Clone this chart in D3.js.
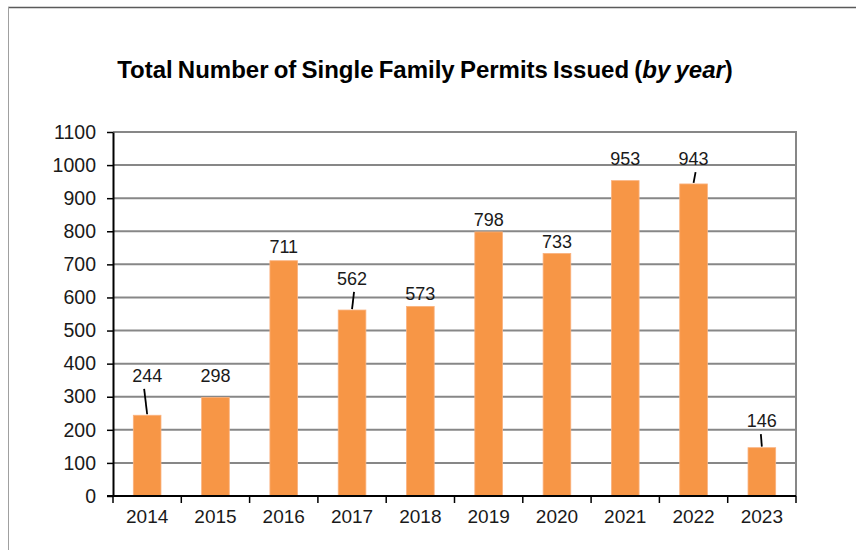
<!DOCTYPE html>
<html>
<head>
<meta charset="utf-8">
<script src="https://cdn.jsdelivr.net/npm/d3@7"></script>
<style>
  html, body { margin: 0; padding: 0; background: #fff; }
  svg { display: block; font-family: "Liberation Sans", Arial, sans-serif; }
</style>
</head>
<body>
<svg id="chart" width="856" height="550"></svg>
<script>
// Single family permits issued per year
const years = ["2014", "2015", "2016", "2017", "2018", "2019", "2020", "2021", "2022", "2023"];
const permits = [244, 298, 711, 562, 573, 798, 733, 953, 943, 146];
const yTicks = [0, 100, 200, 300, 400, 500, 600, 700, 800, 900, 1000, 1100];

// Where each value label sits (baseline, in permit units) and whether it gets a leader line
const labelBaseline = [345, 345, 734, 638, 592, 816, 749, 1000, 1000, 208];
const hasLeader = [true, false, false, true, false, false, false, false, true, true];
const leaderTilt = [-3, 0, 0, 2, 0, 0, 0, 0, 2, -1];

const svg = d3.select("#chart");
const W = 856, H = 550;
const plot = { left: 113, right: 796, top: 132, bottom: 496 };

const x = d3.scaleBand().domain(years).range([plot.left, plot.right]).padding(0);
const y = d3.scaleLinear().domain([0, 1100]).range([plot.bottom, plot.top]);
const barW = x.bandwidth() * 0.405;

// Outer frame (top and left edges)
svg.append("line").attr("x1", 8).attr("x2", W).attr("y1", 7.5).attr("y2", 7.5)
  .attr("stroke", "#5a5a5a").attr("stroke-width", 1.5);
svg.append("line").attr("x1", 8.5).attr("x2", 8.5).attr("y1", 7).attr("y2", H)
  .attr("stroke", "#a0a0a0").attr("stroke-width", 1);

// Title
const title = svg.append("text")
  .attr("x", 425).attr("y", 78)
  .attr("text-anchor", "middle")
  .attr("font-size", 24).attr("font-weight", "bold").attr("fill", "#000")
  .attr("word-spacing", -1.5);
title.append("tspan").text("Total Number of Single Family Permits Issued (");
title.append("tspan").attr("font-style", "italic").text("by year");
title.append("tspan").text(")");

// Horizontal gridlines
svg.append("g").selectAll("line").data(yTicks.filter(d => d > 0)).join("line")
  .attr("x1", plot.left).attr("x2", plot.right)
  .attr("y1", d => y(d)).attr("y2", d => y(d))
  .attr("stroke", "#878787").attr("stroke-width", 2);

// Right border of plot area
svg.append("line").attr("x1", plot.right).attr("x2", plot.right)
  .attr("y1", plot.top - 1).attr("y2", plot.bottom)
  .attr("stroke", "#878787").attr("stroke-width", 2);

// Bars
svg.append("g").selectAll("rect").data(permits).join("rect")
  .attr("x", (d, i) => x(years[i]) + (x.bandwidth() - barW) / 2)
  .attr("y", d => y(d))
  .attr("width", barW)
  .attr("height", d => y(0) - y(d))
  .attr("fill", "#F79646")
  .attr("stroke", "#FAB27F").attr("stroke-width", 0.8);

// Y axis
const yAxis = svg.append("g").attr("transform", `translate(${plot.left},0)`)
  .call(d3.axisLeft(y).tickValues(yTicks).tickFormat(d3.format("d"))
    .tickSizeInner(6).tickSizeOuter(0).tickPadding(11));
yAxis.select(".domain").attr("stroke", "#000").attr("stroke-width", 2);
yAxis.selectAll(".tick line").attr("stroke", "#000").attr("stroke-width", 1.5);
yAxis.selectAll(".tick text").attr("font-size", 19.5).attr("fill", "#1a1a1a")
  .attr("font-family", "Liberation Sans, Arial, sans-serif");

// X axis labels
const xAxis = svg.append("g").attr("transform", `translate(0,${plot.bottom})`)
  .call(d3.axisBottom(x).tickSize(0).tickPadding(14));
xAxis.select(".domain").remove();
xAxis.selectAll(".tick text").attr("font-size", 19).attr("fill", "#1a1a1a")
  .attr("font-family", "Liberation Sans, Arial, sans-serif");

// X axis line and category boundary ticks
const bounds = years.map(yr => x(yr)).concat([plot.right]);
svg.append("g").selectAll("line").data(bounds).join("line")
  .attr("x1", d => d).attr("x2", d => d)
  .attr("y1", plot.bottom).attr("y2", plot.bottom + 7)
  .attr("stroke", "#000").attr("stroke-width", 1.5);
svg.append("line").attr("x1", plot.left - 6).attr("x2", plot.right)
  .attr("y1", plot.bottom).attr("y2", plot.bottom)
  .attr("stroke", "#000").attr("stroke-width", 2);

// Value labels
const labels = svg.append("g");
permits.forEach((v, i) => {
  const cx = x(years[i]) + x.bandwidth() / 2;
  const by = y(labelBaseline[i]);
  labels.append("text")
    .attr("x", cx).attr("y", by)
    .attr("text-anchor", "middle")
    .attr("font-size", 18).attr("fill", "#1a1a1a")
    .text(v);
  if (hasLeader[i]) {
    labels.append("line")
      .attr("x1", cx + leaderTilt[i]).attr("y1", by + 7)
      .attr("x2", cx).attr("y2", y(v) - 1)
      .attr("stroke", "#000").attr("stroke-width", 1.8);
  }
});
</script>
</body>
</html>
